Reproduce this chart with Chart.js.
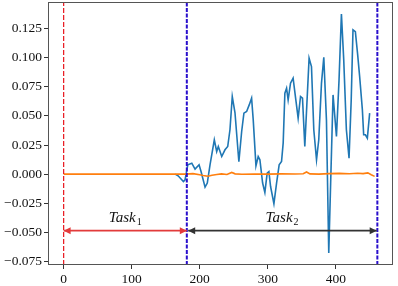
<!DOCTYPE html>
<html lang="en">
<head>
    <meta charset="UTF-8">
    <title>Task loss curves</title>
    <style>
        * { margin: 0; padding: 0; box-sizing: border-box; }
        body { background: #fff; }
        #chart-container { width: 398px; height: 286px; }
    </style>
</head>
<body>
    <div id="chart-container">
        <canvas id="taskChart"></canvas>
    </div>

    <script src="https://cdn.jsdelivr.net/npm/chart.js"></script>
    <script>
        // blue series (x, y)
        const blueX = [163.8, 168.2, 176.0, 178.4, 182.4, 188.3, 193.1, 199.0, 201.9, 207.8,
                       211.1, 215.1, 221.4, 224.9, 227.3, 232.3, 237.1, 241.1, 244.4, 247.8,
                       251.8, 257.5, 261.6, 264.9, 268.9, 272.7, 276.2, 278.6, 282.6, 285.9,
                       288.4, 292.4, 295.7, 299.1, 301.6, 304.1, 309.0, 312.9, 316.7, 320.2,
                       322.6, 325.1, 327.6, 329.9, 333.4, 337.2, 341.2, 344.6, 348.1, 351.0,
                       354.4, 360.7, 364.2, 367.6, 371.6, 374.9, 378.9, 382.3, 386.2, 389.6,
                       392.5, 395.9, 400.9, 404.7, 408.2, 411.6, 415.5, 419.4, 422.6, 425.2,
                       428.7, 432.1, 435.0, 439.0, 440.9, 443.4, 446.3, 449.7];
        const blueY = [0.0000, -0.0015, -0.0064, -0.0049, 0.0080, 0.0094, 0.0043, 0.0080, 0.0022, -0.0112,
                       -0.0077, 0.0080, 0.0295, 0.0194, 0.0237, 0.0151, 0.0209, 0.0237, 0.0381, 0.0667,
                       0.0527, 0.0106, 0.0366, 0.0524, 0.0538, 0.0595, 0.0653, 0.0466, 0.0071, 0.0151,
                       0.0123, -0.0077, -0.0158, 0.0009, 0.0022, -0.0107, -0.0255, -0.0077, 0.0080, 0.0108,
                       0.0266, 0.0696, 0.0739, 0.0638, 0.0782, 0.0825, 0.0638, 0.0481, 0.0667, 0.0653,
                       0.0237, 0.0996, 0.0924, 0.0381, 0.0123, 0.0295, 0.0782, 0.1005, 0.0466, -0.0679,
                       -0.0049, 0.0681, 0.0323, 0.0810, 0.1377, 0.0982, 0.0381, 0.0137, 0.0638, 0.1240,
                       0.1225, 0.1025, 0.0838, 0.0552, 0.0338, 0.0338, 0.0309, 0.0524];

        // orange series
        const orangeX = [0, 180, 190, 200, 205, 212, 218, 225, 232, 240, 247, 252, 262, 280, 300,
                         320, 340, 352, 357, 362, 375, 390, 405, 420, 432, 440, 447, 452, 457];
        const orangeY = [0, 0, 0.0004, -0.0006, -0.0012, -0.0018, -0.0010, -0.0004, 0.0002, -0.0003,
                         0.0014, 0.0002, -0.0002, 0.0001, 0.0000, 0.0002, 0.0001, 0.0003, 0.0018, 0.0002,
                         0.0000, 0.0004, 0.0006, 0.0003, 0.0007, 0.0004, 0.0010, -0.0006, -0.0020];

        const xTicks = [0, 100, 200, 300, 400];
        const yTicks = [-0.075, -0.05, -0.025, 0, 0.025, 0.05, 0.075, 0.1, 0.125];
        const xRange = [-23, 484];
        const yRange = [-0.0782, 0.148];

        const taskBounds = [0, 181, 461];
        const taskLabels = ['1', '2'];
        const arrowY = -0.0487;
        const labelY = -0.0377;

        function fmtY(v) {
            if (Math.abs(v) < 1e-9) return '0.000';
            return (v < 0 ? '\u2212' : '') + Math.abs(v).toFixed(3);
        }

        function pts(xs, ys) {
            return xs.map((x, i) => ({ x: x, y: ys[i] }));
        }

        function vline(x, color, dash, width) {
            return {
                data: [{ x: x, y: yRange[0] }, { x: x, y: yRange[1] }],
                borderColor: color, borderDash: dash, borderWidth: width,
                pointRadius: 0, order: 2
            };
        }

        function arrow(x0, x1, color) {
            return {
                data: [{ x: x0, y: arrowY }, { x: x1, y: arrowY }],
                borderColor: color, borderWidth: 1.8,
                pointRadius: 0, order: 1, isArrow: true
            };
        }

        // frame, arrow heads and task labels
        const decorPlugin = {
            id: 'decor',
            afterDatasetsDraw(chart) {
                const { ctx, chartArea: a, scales: { x, y } } = chart;
                ctx.save();
                chart.data.datasets.forEach(ds => {
                    if (!ds.isArrow) return;
                    const py = y.getPixelForValue(ds.data[0].y);
                    const xa = x.getPixelForValue(ds.data[0].x);
                    const xb = x.getPixelForValue(ds.data[1].x);
                    ctx.fillStyle = ds.borderColor;
                    [[xa, 1], [xb, -1]].forEach(([px, dir]) => {
                        ctx.beginPath();
                        ctx.moveTo(px, py);
                        ctx.lineTo(px + dir * 7, py - 3.5);
                        ctx.lineTo(px + dir * 7, py + 3.5);
                        ctx.closePath();
                        ctx.fill();
                    });
                });

                ctx.fillStyle = '#111';
                ctx.textBaseline = 'middle';
                for (let i = 0; i < taskLabels.length; i++) {
                    const cx = x.getPixelForValue((taskBounds[i] + taskBounds[i + 1]) / 2);
                    const cy = y.getPixelForValue(labelY);
                    ctx.font = 'italic 15px "Liberation Serif"';
                    const w1 = ctx.measureText('Task').width;
                    ctx.font = '10px "Liberation Serif"';
                    const w2 = ctx.measureText(taskLabels[i]).width;
                    const left = cx - (w1 + w2 + 1) / 2;
                    ctx.font = 'italic 15px "Liberation Serif"';
                    ctx.textAlign = 'left';
                    ctx.fillText('Task', left, cy);
                    ctx.font = '10px "Liberation Serif"';
                    ctx.fillText(taskLabels[i], left + w1 + 1, cy + 4);
                }

                ctx.strokeStyle = '#555';
                ctx.lineWidth = 1;
                ctx.strokeRect(a.left + 0.5, a.top + 0.5, a.right - a.left - 1, a.bottom - a.top - 1);
                ctx.restore();
            }
        };

        const tickFont = { family: '"Liberation Serif"', size: 13.5 };

        new Chart(document.getElementById('taskChart').getContext('2d'), {
            type: 'line',
            data: {
                datasets: [
                    { data: pts(blueX, blueY), borderColor: '#1f77b4', borderWidth: 1.6, pointRadius: 0, order: 5 },
                    { data: pts(orangeX, orangeY), borderColor: '#ff7f0e', borderWidth: 1.6, pointRadius: 0, order: 4 },
                    vline(taskBounds[0], '#e8141c', [5, 2], 1.2),
                    vline(taskBounds[1], '#2a0fcc', [4, 1.5], 2),
                    vline(taskBounds[2], '#2a0fcc', [4, 1.5], 2),
                    arrow(taskBounds[0], taskBounds[1], '#e23b3b'),
                    arrow(taskBounds[1] + 2, taskBounds[2] - 1, '#333333')
                ]
            },
            options: {
                responsive: true,
                maintainAspectRatio: false,
                animation: false,
                parsing: false,
                layout: { padding: { top: 2, right: 5, left: 0, bottom: 0 } },
                plugins: { legend: { display: false }, tooltip: { enabled: false } },
                scales: {
                    x: {
                        type: 'linear', min: xRange[0], max: xRange[1],
                        afterBuildTicks: axis => { axis.ticks = xTicks.map(v => ({ value: v })); },
                        afterFit: axis => { axis.height = 21; axis.paddingLeft = 0; axis.paddingRight = 0; },
                        grid: { drawOnChartArea: false, drawTicks: true, tickLength: 4, color: '#333' },
                        border: { display: false },
                        ticks: { color: '#111', font: tickFont, padding: 2, maxRotation: 0 }
                    },
                    y: {
                        type: 'linear', min: yRange[0], max: yRange[1],
                        afterBuildTicks: axis => { axis.ticks = yTicks.map(v => ({ value: v })); },
                        afterFit: axis => { axis.width = 48; axis.paddingTop = 0; axis.paddingBottom = 0; },
                        grid: { drawOnChartArea: false, drawTicks: true, tickLength: 4, color: '#333' },
                        border: { display: false },
                        ticks: { color: '#111', font: tickFont, padding: 2, callback: v => fmtY(v) }
                    }
                }
            },
            plugins: [decorPlugin]
        });
    </script>
</body>
</html>
